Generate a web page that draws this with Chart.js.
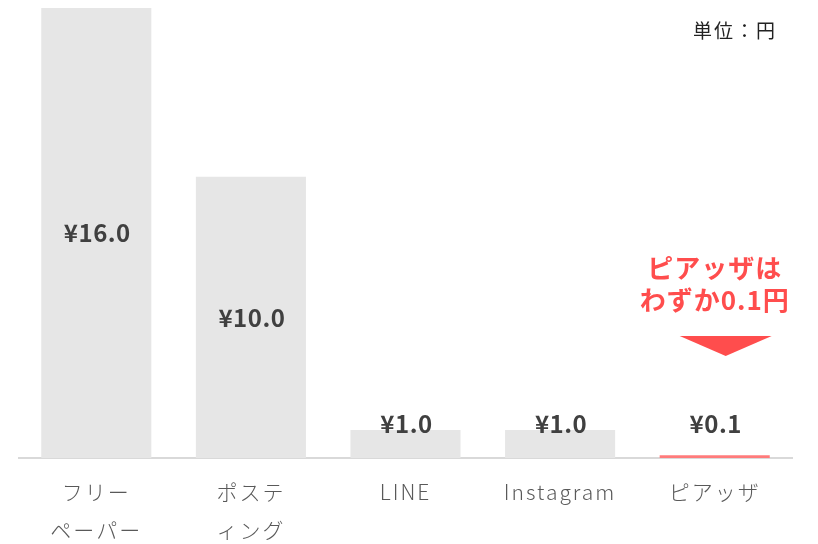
<!DOCTYPE html>
<html>
<head>
<meta charset="utf-8">
<script src="https://cdn.jsdelivr.net/npm/chart.js@4"></script>
<style>
  html, body { margin: 0; padding: 0; background: #fff; }
  #wrap { width: 818px; height: 544px; position: relative; }
</style>
</head>
<body>
<div id="wrap"><canvas id="costChart"></canvas></div>
<script>
const categories = [['フリー', 'ペーパー'], ['ポステ', 'ィング'], 'LINE', 'Instagram', 'ピアッザ'];
const unitCosts = [16.0, 10.0, 1.0, 1.0, 0.1];
const valueLabels = ['¥16.0', '¥10.0', '¥1.0', '¥1.0', '¥0.1'];
const barColors = ['#e6e6e6', '#e6e6e6', '#e6e6e6', '#e6e6e6', '#ff7b7b'];
const calloutLines = ['ピアッザは', 'わずか0.1円'];
const unitNote = '単位：円';

const FONT = '"Noto Sans CJK JP", "Noto Sans", sans-serif';

// widen the tick text a bit, like the original
const spacingPlugin = {
    id: 'spacing',
    beforeDraw(chart) { chart.ctx.letterSpacing = '2px'; },
    beforeDatasetsDraw(chart) { chart.ctx.letterSpacing = '0px'; }
};

// value labels + callout + unit note
const labelPlugin = {
    id: 'labels',
    afterDatasetsDraw(chart) {
        const ctx = chart.ctx;
        const meta = chart.getDatasetMeta(0);
        const y0 = chart.scales.y.getPixelForValue(0);
        ctx.save();
        ctx.textAlign = 'center';
        ctx.textBaseline = 'middle';
        ctx.font = 'bold 24px ' + FONT;
        ctx.letterSpacing = '0.5px';
        ctx.fillStyle = '#404040';
        meta.data.forEach((bar, i) => {
            const h = y0 - bar.y;
            const y = h > 80 ? (bar.y + y0) / 2 : y0 - 34;
            ctx.fillText(valueLabels[i], bar.x + 1, y);
        });

        // callout over last bar
        const last = meta.data[meta.data.length - 1];
        ctx.fillStyle = '#ff4d4d';
        ctx.font = 'bold 26px ' + FONT;
        ctx.letterSpacing = '1px';
        ctx.fillText(calloutLines[0], last.x, 268);
        ctx.fillText(calloutLines[1], last.x, 300);
        ctx.beginPath();
        ctx.moveTo(last.x - 35, 336);
        ctx.lineTo(last.x + 57, 336);
        ctx.lineTo(last.x + 11, 356);
        ctx.closePath();
        ctx.fill();

        ctx.fillStyle = '#222';
        ctx.font = '19px ' + FONT;
        ctx.letterSpacing = '2px';
        ctx.textAlign = 'left';
        ctx.fillText(unitNote, 693, 31);
        ctx.restore();
    }
};

new Chart(document.getElementById('costChart'), {
    type: 'bar',
    data: {
        labels: categories,
        datasets: [{
            data: unitCosts,
            backgroundColor: barColors,
            borderWidth: 0,
            barPercentage: 0.712,
            categoryPercentage: 1.0
        }]
    },
    options: {
        responsive: true,
        maintainAspectRatio: false,
        animation: false,
        layout: { padding: { left: 19, right: 26, top: 8, bottom: 0 } },
        plugins: { legend: { display: false }, tooltip: { enabled: false } },
        scales: {
            x: {
                grid: { display: false, drawTicks: false },
                border: { display: true, color: '#d9d9d9', width: 2 },
                ticks: {
                    color: '#595959',
                    padding: 15,
                    maxRotation: 0,
                    font: { family: FONT, size: 21, weight: '300', lineHeight: 1.8 }
                },
                afterFit(s) { s.height = 86; }
            },
            y: { display: false, min: 0, max: 16 }
        }
    },
    plugins: [spacingPlugin, labelPlugin]
});
</script>
</body>
</html>
